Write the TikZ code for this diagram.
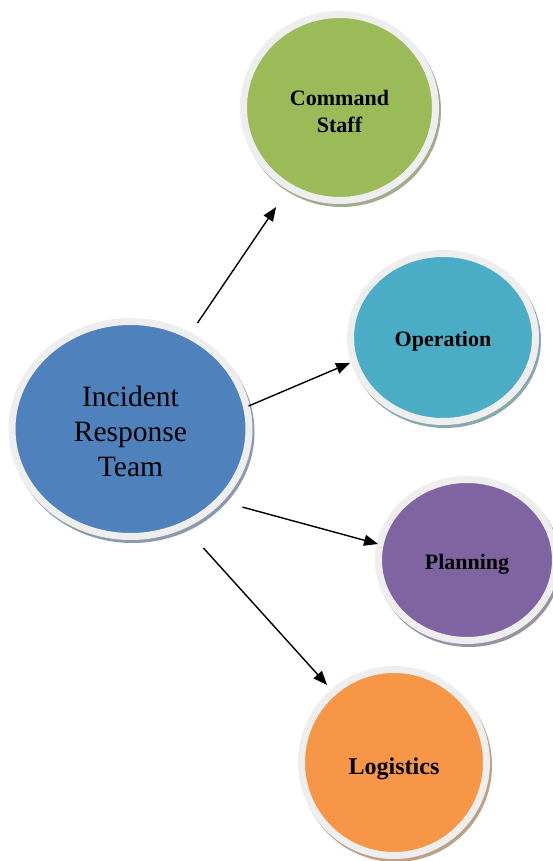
\documentclass[tikz,border=0pt]{standalone}
\usepackage{fontspec}
\setmainfont{Liberation Serif}
\usetikzlibrary{shapes.geometric,arrows.meta,calc}
\definecolor{cblue}{HTML}{4F81BD}
\definecolor{cgreen}{HTML}{9BBB59}
\definecolor{cteal}{HTML}{4BACC6}
\definecolor{cpurple}{HTML}{8064A2}
\definecolor{corange}{HTML}{F79646}
\definecolor{ringgray}{HTML}{EEEEEE}
\tikzset{
  bubble/.style={ellipse, inner sep=0pt, outer sep=0pt, draw=ringgray, line width=7pt, fill=#1,
    preaction={draw=#1!55!black!55, line width=7pt, transform canvas={shift={(2pt,-3pt)}}}},
  txt/.style={label={[text=black, align=center, yshift=#1]center:}},
  bigtext/.style={font=\fontsize{29.5}{35}\selectfont},
  smalltext/.style={font=\fontsize{22}{26.5}\selectfont\bfseries},
  arr/.style={line width=1.4pt, -{Triangle[length=14pt,width=11pt]}}
}
\begin{document}
\begin{tikzpicture}[x=1pt,y=1pt]
\useasboundingbox (0,0) rectangle (553,861);
\node[bubble=cblue, minimum width=237pt, minimum height=215pt,
  label={[bigtext, align=center, yshift=-2.5pt]center:Incident\\Response\\Team}] (main) at (130.5,432) {};
\node[bubble=cgreen, minimum width=192pt, minimum height=186pt,
  label={[smalltext, align=center, yshift=-4pt]center:Command\\Staff}] (cmd) at (339.5,753.5) {};
\node[bubble=cteal, minimum width=185pt, minimum height=168pt,
  label={[smalltext, yshift=-4pt]center:Operation}] (op) at (443,523.5) {};
\node[bubble=cpurple, minimum width=177pt, minimum height=161pt,
  label={[smalltext, yshift=-4.5pt]center:Planning}] (plan) at (467,301) {};
\node[bubble=corange, minimum width=185pt, minimum height=186pt,
  label={[font=\fontsize{24}{28}\selectfont\bfseries, yshift=-6pt]center:Logistics}] (log) at (394,98.5) {};
\draw[arr] ($(main.center)+(57.7:125.4pt)$) -- ($(cmd.center)+(-122.5:118pt)$);
\draw[arr] ($(main.center)+(11:120.2pt)$) -- ($(op.center)+(195.3:96.4pt)$);
\draw[arr] ($(main.center)+(-34.9:136.5pt)$) -- ($(plan.center)+(169.8:90.4pt)$);
\draw[arr] ($(main.center)+(-58.5:139.6pt)$) -- ($(log.center)+(130.8:102.4pt)$);
\end{tikzpicture}
\end{document}
